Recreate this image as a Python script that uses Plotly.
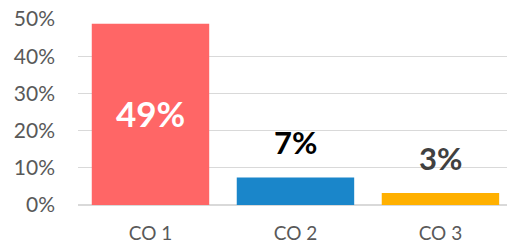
import plotly.graph_objects as go

categories = ["CO 1", "CO 2", "CO 3"]
values = [0.487, 0.074, 0.032]
bar_colors = ["#FF6666", "#1A86CA", "#FFB000"]
label_colors = ["#FFFFFF", "#000000", "#404040"]
tick_vals = [0, 0.1, 0.2, 0.3, 0.4, 0.5]
tick_text = ["0%", "10%", "20%", "30%", "40%", "50%"]

fig = go.Figure(go.Bar(
    x=categories, y=values, marker=dict(color=bar_colors, line=dict(width=0)),
    hoverinfo="skip",
))

annotations = []
for i, (c, v) in enumerate(zip(categories, values)):
    if i == 0:
        annotations.append(dict(x=c, y=v / 2, text=f"{v:.0%}", showarrow=False,
                                xanchor="center", yanchor="middle", yshift=1,
                                font=dict(family="Lato", size=35, color=label_colors[i], weight="bold")))
    else:
        annotations.append(dict(x=c, y=v, text=f"{v:.0%}", showarrow=False,
                                xanchor="center", yanchor="middle", yshift=35,
                                font=dict(family="Lato", size=31, color=label_colors[i], weight="bold")))

fig.update_layout(
    width=507, height=245,
    margin=dict(l=78, r=0, t=19, b=40),
    paper_bgcolor="white", plot_bgcolor="white",
    bargap=0.19,
    showlegend=False,
    annotations=annotations,
    xaxis=dict(range=[-0.5, 2.459], showgrid=False, zeroline=False, showline=False,
               automargin=False, ticks="", ticklabelstandoff=15,
               tickfont=dict(family="Lato", size=19, color="#595959")),
    yaxis=dict(range=[0, 0.5], tickvals=tick_vals, ticktext=tick_text,
               showgrid=True, gridcolor="#D9D9D9", gridwidth=1.3,
               zeroline=True, zerolinecolor="#D9D9D9", zerolinewidth=1.3,
               showline=False, ticks="", ticklabelstandoff=22, automargin=False,
               tickfont=dict(family="Lato", size=21, color="#595959")),
)

fig.write_html("out.html", config={"displayModeBar": False, "staticPlot": True},
               post_script="document.body.style.margin='0';document.body.style.overflow='hidden';")
